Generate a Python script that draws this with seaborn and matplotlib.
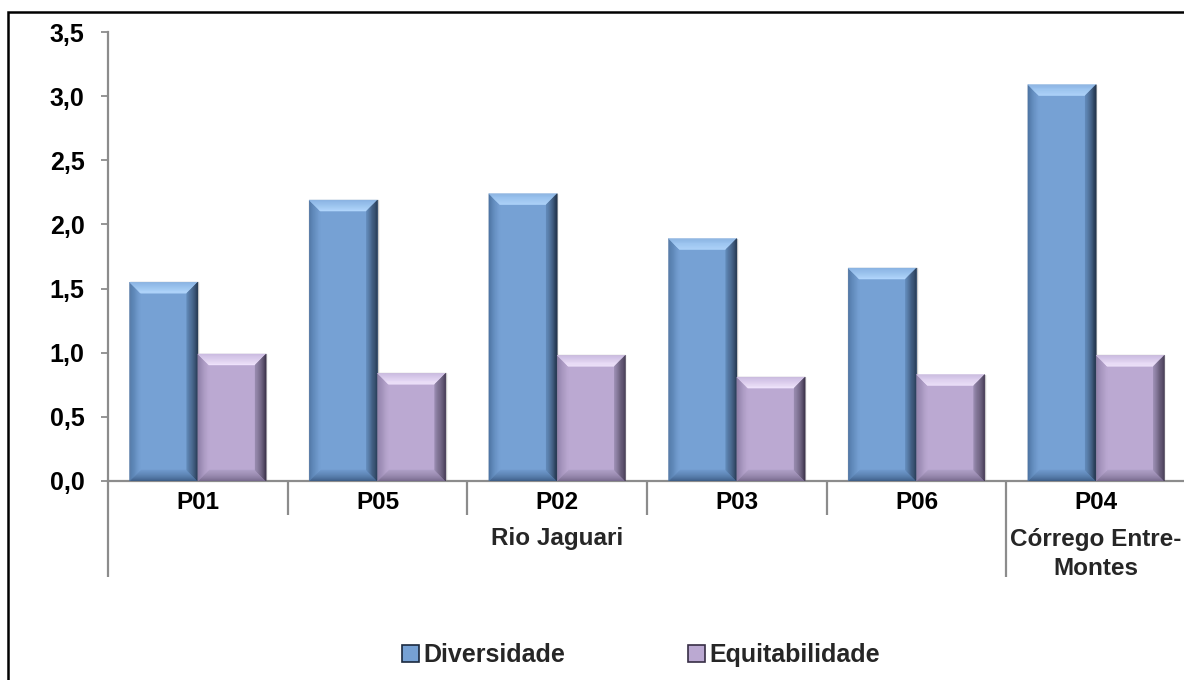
import numpy as np
import pandas as pd
import matplotlib
matplotlib.use("Agg")
import matplotlib.pyplot as plt
from matplotlib.patches import Polygon, Rectangle, Patch
from matplotlib.ticker import FuncFormatter, MultipleLocator
from matplotlib.colors import to_rgb
import seaborn as sns

# Sampling points and index values
pontos = ["P01", "P05", "P02", "P03", "P06", "P04"]
diversidade = [1.55, 2.19, 2.24, 1.89, 1.66, 3.09]
equitabilidade = [0.99, 0.84, 0.98, 0.81, 0.83, 0.98]
series = ["Diversidade", "Equitabilidade"]
# Water bodies, each spanning a run of points (first index, last index)
corpos_agua = ["Rio Jaguari", "Córrego Entre-\nMontes"]
corpos_span = [(0, 4), (5, 5)]

df = pd.DataFrame({
    "Ponto": pontos * 2,
    "Valor": diversidade + equitabilidade,
    "Índice": [series[0]] * len(pontos) + [series[1]] * len(pontos),
})

sns.set_theme(style="white")
plt.rcParams["font.family"] = ["Liberation Sans", "DejaVu Sans"]
plt.rcParams["font.weight"] = "bold"

W, H, DPI = 11.84, 6.80, 100
fig = plt.figure(figsize=(W, H), dpi=DPI)
ax_l, ax_b, ax_w, ax_h = 108 / 1184, 1 - 481 / 680, (1186 - 108) / 1184, (481 - 32) / 680
ax = fig.add_axes([ax_l, ax_b, ax_w, ax_h])

face = {"Diversidade": "#76a1d4", "Equitabilidade": "#bba9d2"}
# bevel shading: (outer, inner) colours for top, right, bottom, left edges
bevel = {
    "Diversidade": {"top": ("#86b1e2", "#b2d7fc"), "right": ("#1b2a3f", "#6189b8"),
                    "bottom": ("#3b5a82", "#6f9acd"), "left": ("#4a71a0", "#76a1d4")},
    "Equitabilidade": {"top": ("#c8b8df", "#f0e4fc"), "right": ("#372e45", "#978aae"),
                       "bottom": ("#736688", "#ae9fc6"), "left": ("#8a7ba3", "#bba9d2")},
}

sns.barplot(data=df, x="Ponto", y="Valor", hue="Índice", order=pontos,
            hue_order=series, palette=[face[s] for s in series], width=0.76,
            saturation=1, edgecolor="#c9c9c9", linewidth=1.0, legend=False,
            errorbar=None, ax=ax)

ax.set_xlim(-0.5, len(pontos) - 0.5)
ax.set_ylim(0, 3.5)

# pixel -> data conversion for bevel depth
ax_w_px = ax_w * W * DPI
ax_h_px = ax_h * H * DPI
px_x = (len(pontos)) / ax_w_px
px_y = 3.5 / ax_h_px
depth_px = 11
nsteps = 10


def mix(c1, c2, t):
    a, b = np.array(to_rgb(c1)), np.array(to_rgb(c2))
    return tuple(a + (b - a) * t)


def side_poly(x0, x1, y0, y1, side, t0, t1):
    bx, by = depth_px * px_x, depth_px * px_y
    def ring(t):
        return (x0 + t * bx, x1 - t * bx, y0 + t * by, y1 - t * by)
    a0, a1, b0, b1 = ring(t0)
    c0, c1, d0, d1 = ring(t1)
    if side == "top":
        return [(a0, b1), (a1, b1), (c1, d1), (c0, d1)]
    if side == "bottom":
        return [(a0, b0), (a1, b0), (c1, d0), (c0, d0)]
    if side == "left":
        return [(a0, b0), (a0, b1), (c0, d1), (c0, d0)]
    return [(a1, b0), (a1, b1), (c1, d1), (c1, d0)]


bars = [p for p in ax.patches if p.get_height() > 0]
n = len(pontos)
for i, bar in enumerate(bars):
    s = series[0] if i < n else series[1]
    x0, w = bar.get_x(), bar.get_width()
    y0, h = bar.get_y(), bar.get_height()
    x1, y1 = x0 + w, y0 + h
    for side in ["bottom", "left", "top", "right"]:
        outer, inner = bevel[s][side]
        for k in range(nsteps):
            t0, t1 = k / nsteps, (k + 1) / nsteps
            col = mix(outer, inner, ((k + 0.5) / nsteps) ** 0.8)
            ax.add_patch(Polygon(side_poly(x0, x1, y0, y1, side, t0, t1),
                                 closed=True, facecolor=col, edgecolor=col,
                                 linewidth=0.3, zorder=3))

axis_gray = "#8c8c8c"
sns.despine(ax=ax, top=True, right=True)
for sp in ["left", "bottom"]:
    ax.spines[sp].set_color(axis_gray)
    ax.spines[sp].set_linewidth(1.6)

ax.yaxis.set_major_locator(MultipleLocator(0.5))
ax.yaxis.set_major_formatter(FuncFormatter(lambda v, _: f"{v:.1f}".replace(".", ",")))
ax.tick_params(axis="y", which="major", left=True, direction="out", length=5,
               width=1.3, color=axis_gray, pad=12, labelsize=18, labelcolor="black")
ax.tick_params(axis="x", which="major", bottom=False, length=0, pad=7,
               labelsize=17.5, labelcolor="black")
for lbl in ax.get_yticklabels() + ax.get_xticklabels():
    lbl.set_fontweight("bold")
ax.set_xlabel("")
ax.set_ylabel("")

# category separators below the axis
trans = ax.get_xaxis_transform()
deep = -(577 - 481) / 449
shallow = -(515 - 481) / 449
group_starts = [a for a, _ in corpos_span]
for b in np.arange(-0.5, len(pontos) - 0.5 + 0.01, 1.0):
    idx_after = int(b + 0.5)
    y_end = deep if idx_after in group_starts else shallow
    ax.plot([b, b], [0, y_end], transform=trans, color=axis_gray, lw=1.6,
            clip_on=False, solid_capstyle="butt")

# water body labels
for name, (a, b) in zip(corpos_agua, corpos_span):
    cx = (a + b) / 2
    ax.text(cx, -(554 - 481) / 449 if "\n" in name else -(538 - 481) / 449, name,
            transform=trans, ha="center", va="center", fontsize=17.5,
            fontweight="bold", linespacing=1.3)

# legend
handles = [Patch(facecolor=face[s], edgecolor=bevel[s]["right"][0], linewidth=1.2)
           for s in series]
fig.legend(handles, series, loc="center", bbox_to_anchor=(641 / 1184, 1 - 655 / 680),
           ncol=2, frameon=False, handlelength=0.68, handleheight=0.68,
           handletextpad=0.18, columnspacing=4.9, prop={"weight": "bold", "size": 18})

# outer chart frame
fig.patches.append(Rectangle((8 / 1184, -0.05), 1.1, 1 - 12 / 680 + 0.05,
                             transform=fig.transFigure, fill=False,
                             edgecolor="black", linewidth=1.8))

fig.savefig("out.png", dpi=DPI)
